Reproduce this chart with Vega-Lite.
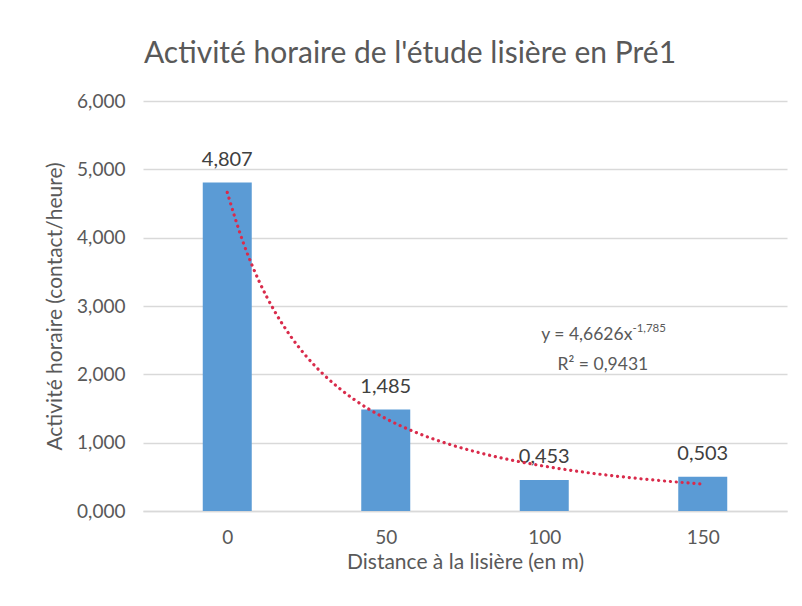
{
  "$schema": "https://vega.github.io/schema/vega-lite/v6.json",
  "autosize": "none",
  "width": 644,
  "height": 410,
  "padding": {"left": 143, "top": 101, "right": 15, "bottom": 95},
  "background": "white",
  "config": {
    "locale": {"number": {"decimal": ",", "thousands": " ", "grouping": [3], "currency": ["", " €"]}},
    "font": "Lato",
    "view": {"stroke": null},
    "title": {"font": "Lato", "fontSize": 30, "fontWeight": "normal", "color": "#595959"}
  },
  "title": {"text": "Activité horaire de l'étude lisière en Pré1", "anchor": "middle", "offset": 23, "dx": -55},
  "datasets": {
    "bars": [
      {"distance": 0, "activite": 4.807},
      {"distance": 50, "activite": 1.485},
      {"distance": 100, "activite": 0.453},
      {"distance": 150, "activite": 0.503}
    ],
    "trend": [
      {"distance": 0, "tendance": 4.663},
      {"distance": 5, "tendance": 3.933},
      {"distance": 10, "tendance": 3.367},
      {"distance": 15, "tendance": 2.919},
      {"distance": 20, "tendance": 2.557},
      {"distance": 25, "tendance": 2.261},
      {"distance": 30, "tendance": 2.015},
      {"distance": 40, "tendance": 1.633},
      {"distance": 50, "tendance": 1.353},
      {"distance": 60, "tendance": 1.141},
      {"distance": 70, "tendance": 0.977},
      {"distance": 80, "tendance": 0.847},
      {"distance": 90, "tendance": 0.742},
      {"distance": 100, "tendance": 0.656},
      {"distance": 115, "tendance": 0.553},
      {"distance": 130, "tendance": 0.474},
      {"distance": 150, "tendance": 0.393}
    ],
    "annot": [{}]
  },
  "layer": [
    {
      "data": {"name": "bars"},
      "mark": {"type": "bar", "size": 49, "color": "#5B9BD5"},
      "encoding": {
        "x": {
          "field": "distance", "type": "quantitative",
          "scale": {"domain": [-25, 175], "nice": false, "zero": false},
          "axis": {
            "values": [0, 50, 100, 150], "grid": false, "ticks": false,
            "domain": true, "domainColor": "#D9D9D9", "domainWidth": 1.3,
            "labelFontSize": 19, "labelColor": "#595959", "labelPadding": 17,
            "title": "Distance à la lisière (en m)", "titleFontSize": 21,
            "titleFontWeight": "normal", "titleColor": "#595959", "titlePadding": 4
          }
        },
        "y": {
          "field": "activite", "type": "quantitative",
          "scale": {"domain": [0, 6], "nice": false},
          "axis": {
            "values": [0, 1, 2, 3, 4, 5, 6], "format": ".3f",
            "grid": true, "gridColor": "#D9D9D9", "gridWidth": 1.3,
            "ticks": false, "domain": false,
            "labelFontSize": 19, "labelColor": "#595959", "labelPadding": 18,
            "title": "Activité horaire (contact/heure)", "titleFontSize": 21,
            "titleFontWeight": "normal", "titleColor": "#595959", "titlePadding": 11
          }
        }
      }
    },
    {
      "data": {"name": "bars"},
      "mark": {"type": "text", "fontSize": 20, "color": "#404040", "baseline": "alphabetic", "dy": -17},
      "encoding": {
        "x": {"field": "distance", "type": "quantitative"},
        "y": {"field": "activite", "type": "quantitative"},
        "text": {"field": "activite", "type": "quantitative", "format": ".3f"}
      }
    },
    {
      "data": {"name": "trend"},
      "mark": {"type": "line", "color": "#D92B4B", "strokeWidth": 3.2, "strokeDash": [0.1, 5.8], "strokeCap": "round", "interpolate": "monotone"},
      "encoding": {
        "x": {"field": "distance", "type": "quantitative"},
        "y": {"field": "tendance", "type": "quantitative"}
      }
    },
    {
      "data": {"name": "annot"},
      "mark": {"type": "text", "fontSize": 17.5, "color": "#595959", "align": "right", "baseline": "alphabetic"},
      "encoding": {
        "x": {"datum": 127.8, "type": "quantitative"},
        "y": {"datum": 2.503, "type": "quantitative"},
        "text": {"value": "y = 4,6626x"}
      }
    },
    {
      "data": {"name": "annot"},
      "mark": {"type": "text", "fontSize": 11.5, "color": "#595959", "align": "left", "baseline": "alphabetic", "dy": -8},
      "encoding": {
        "x": {"datum": 127.8, "type": "quantitative"},
        "y": {"datum": 2.503, "type": "quantitative"},
        "text": {"value": "-1,785"}
      }
    },
    {
      "data": {"name": "annot"},
      "mark": {"type": "text", "fontSize": 17.5, "color": "#595959", "align": "center", "baseline": "alphabetic"},
      "encoding": {
        "x": {"datum": 118.5, "type": "quantitative"},
        "y": {"datum": 2.06, "type": "quantitative"},
        "text": {"value": "R² = 0,9431"}
      }
    }
  ]
}
